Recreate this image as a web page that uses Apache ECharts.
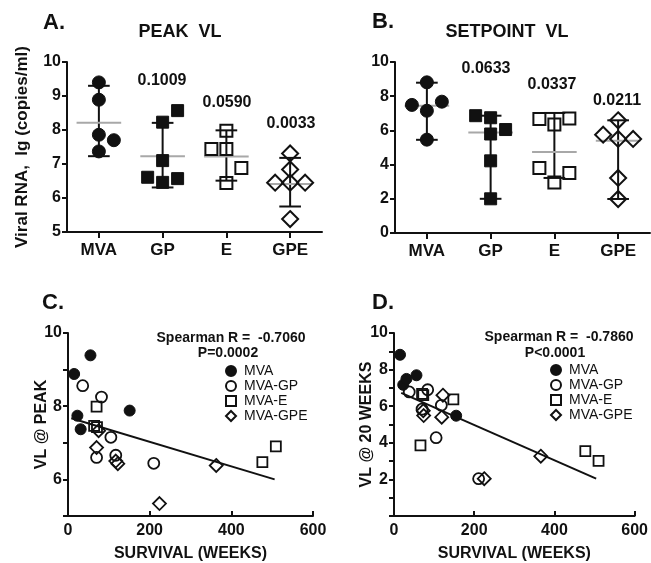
<!DOCTYPE html>
<html>
<head>
<meta charset="utf-8">
<script src="https://cdn.jsdelivr.net/npm/echarts@6/dist/echarts.min.js"></script>
<style>
  html, body { margin: 0; padding: 0; background: #fff; }
  #chart { width: 651px; height: 563px; }
</style>
</head>
<body>
<div id="chart"></div>
<script>
// ---- data ----
const groups = ['MVA', 'GP', 'E', 'GPE']

// A. peak VL, one array per group; side = -1 left / 0 centre / 1 right of the column
const peakVals = [
  [9.40, 8.89, 7.86, 7.70, 7.37],
  [8.57, 8.23, 7.10, 6.61, 6.57, 6.46],
  [7.98, 7.44, 7.44, 6.88, 6.44],
  [7.31, 6.84, 6.45, 6.45, 6.45, 5.38]
]
const peakSide = [
  [0, 0, 0, 1, 0],
  [1, 0, 0, -1, 1, 0],
  [0, -1, 0, 1, 0],
  [0, 0, -1, 0, 1, 0]
]
const peakMean = [8.21, 7.23, 7.22, 6.41]
const peakLow = [7.23, 6.31, 6.51, 5.75]
const peakHigh = [9.30, 8.21, 7.99, 7.18]
const peakP = ['', '0.1009', '0.0590', '0.0033']

// B. setpoint VL
const setVals = [
  [8.81, 7.49, 7.68, 7.15, 5.46],
  [6.86, 6.74, 6.05, 5.79, 4.22, 2.00],
  [6.67, 6.70, 6.34, 3.80, 3.51, 2.96],
  [6.59, 5.75, 5.50, 5.50, 3.22, 1.99]
]
const setSide = [
  [0, -1, 1, 0, 0],
  [-1, 0, 1, 0, 0, 0],
  [-1, 1, 0, -1, 1, 0],
  [0, -1, 0, 1, 0, 0]
]
const setMean = [7.44, 5.88, 4.74, 5.40]
const setLow = [5.45, 2.00, 3.22, 1.99]
const setHigh = [8.79, 6.86, 7.02, 6.59]
const setP = ['', '0.0633', '0.0337', '0.0211']

// C. survival (weeks) vs peak VL
const legendNames = ['MVA', 'MVA-GP', 'MVA-E', 'MVA-GPE']
const cSurv = [
  [15, 23, 31, 55, 151],
  [36, 82, 105, 70, 117, 210],
  [70, 64, 71, 476, 509],
  [75, 70, 117, 122, 224, 363]
]
const cPeak = [
  [8.88, 7.74, 7.37, 9.39, 7.88],
  [8.56, 8.25, 7.15, 6.60, 6.66, 6.44],
  [7.99, 7.46, 7.43, 6.47, 6.90],
  [7.33, 6.87, 6.50, 6.43, 5.34, 6.38]
]
const cFit = [[8, 7.67], [506, 6.00]]

// D. survival (weeks) vs VL at 20 weeks
const dSurv = [
  [15, 23, 31, 56, 155],
  [38, 84, 118, 70, 105, 211],
  [70, 73, 148, 66, 477, 510],
  [122, 74, 119, 73, 366, 225]
]
const dSet = [
  [8.81, 7.17, 7.49, 7.69, 5.48],
  [6.78, 6.90, 6.05, 5.84, 4.28, 2.04],
  [6.67, 6.60, 6.37, 3.86, 3.54, 3.01],
  [6.60, 5.49, 5.40, 5.75, 3.27, 2.04]
]
const dFit = [[18, 6.73], [504, 2.04]]

// ---- styling ----
const font = '"Liberation Sans", Arial, Helvetica, sans-serif'
const ink = '#111111'
const JIT = 0.235
const groupSymbol = ['circle', 'rect', 'rect', 'diamond']
const groupFilled = [true, true, false, false]
const scatSymbol = ['circle', 'circle', 'rect', 'diamond']
const scatFilled = [true, false, false, false]

function markStyle(filled, bw) {
  return filled
    ? { color: ink, borderColor: ink, borderWidth: 1, opacity: 1 }
    : { color: 'rgba(0,0,0,0)', borderColor: ink, borderWidth: bw || 2, opacity: 1 }
}

function symSize(sym, big) {
  if (sym === 'diamond') return big ? 16 : 13
  if (sym === 'rect') return big ? 12 : 10
  return big ? 13 : 11
}

function catXAxis(gridIndex) {
  return {
    gridIndex: gridIndex,
    type: 'value',
    min: -0.5,
    max: 3.5,
    axisLine: { show: true, onZero: false, lineStyle: { color: ink, width: 2 } },
    axisTick: { show: true, customValues: [0, 1, 2, 3], length: 6, lineStyle: { color: ink, width: 2 } },
    axisLabel: {
      customValues: [0, 1, 2, 3],
      formatter(v) { return groups[Math.round(v)] },
      color: ink, fontFamily: font, fontWeight: 'bold', fontSize: 17, margin: 10
    },
    splitLine: { show: false }
  }
}

function valAxis(gridIndex, min, max, interval, opts) {
  const o = opts || {}
  return {
    gridIndex: gridIndex,
    type: 'value',
    min: min,
    max: max,
    interval: interval,
    name: o.name || '',
    nameLocation: 'middle',
    nameGap: o.nameGap || 30,
    nameMoveOverlap: false,
    nameTextStyle: { color: ink, fontFamily: font, fontWeight: 'bold', fontSize: o.nameSize || 16 },
    axisLine: { show: true, onZero: false, lineStyle: { color: ink, width: 2 } },
    axisTick: { show: true, inside: !!o.inside, length: 5, lineStyle: { color: ink, width: 2 } },
    axisLabel: {
      formatter: o.formatter,
      color: ink, fontFamily: font, fontWeight: 'bold', fontSize: 16, margin: o.margin || 6
    },
    splitLine: { show: false }
  }
}

function errorBars(axisIdx, low, high, mean) {
  return {
    type: 'custom',
    xAxisIndex: axisIdx,
    yAxisIndex: axisIdx,
    silent: true,
    z: 1,
    encode: { x: 0, y: [1, 2, 3] },
    data: groups.map((g, i) => [i, low[i], high[i], mean[i]]),
    renderItem(params, api) {
      const x = api.value(0)
      const lo = api.coord([x, api.value(1)])
      const hi = api.coord([x, api.value(2)])
      const m = api.coord([x, api.value(3)])
      const w = api.size([1, 0])[0]
      const cap = w * 0.17
      const half = w * 0.35
      const black = { stroke: ink, lineWidth: 2 }
      return {
        type: 'group',
        children: [
          { type: 'line', shape: { x1: lo[0], y1: lo[1], x2: hi[0], y2: hi[1] }, style: black },
          { type: 'line', shape: { x1: lo[0] - cap, y1: lo[1], x2: lo[0] + cap, y2: lo[1] }, style: black },
          { type: 'line', shape: { x1: hi[0] - cap, y1: hi[1], x2: hi[0] + cap, y2: hi[1] }, style: black },
          { type: 'line', shape: { x1: m[0] - half, y1: m[1], x2: m[0] + half, y2: m[1] }, style: { stroke: '#a8a8a8', lineWidth: 2 } }
        ]
      }
    }
  }
}

function columnScatter(axisIdx, vals, sides, prefix) {
  return groups.map((g, i) => ({
    name: prefix + g,
    type: 'scatter',
    xAxisIndex: axisIdx,
    yAxisIndex: axisIdx,
    symbol: groupSymbol[i],
    symbolSize: symSize(groupSymbol[i], true),
    itemStyle: markStyle(groupFilled[i], 2),
    z: 3,
    data: vals[i].map((v, k) => [i + sides[i][k] * JIT, v])
  }))
}

function survScatter(axisIdx, xs, ys) {
  return legendNames.map((n, i) => ({
    name: n,
    type: 'scatter',
    xAxisIndex: axisIdx,
    yAxisIndex: axisIdx,
    symbol: scatSymbol[i],
    symbolSize: symSize(scatSymbol[i], false),
    itemStyle: markStyle(scatFilled[i], 1.8),
    z: 3,
    data: xs[i].map((x, k) => [x, ys[i][k]])
  }))
}

function fitLine(axisIdx, pts) {
  return {
    type: 'line',
    xAxisIndex: axisIdx,
    yAxisIndex: axisIdx,
    symbol: 'none',
    silent: true,
    z: 2,
    lineStyle: { color: ink, width: 2 },
    data: pts
  }
}

function txt(x, y, s, size, weight) {
  return {
    type: 'text',
    x: x,
    y: y,
    style: {
      text: s, fill: ink, fontFamily: font, fontSize: size,
      fontWeight: weight || 'bold', align: 'center', verticalAlign: 'middle'
    }
  }
}

function legendAt(left, top) {
  return {
    orient: 'vertical',
    left: left,
    top: top,
    padding: 0,
    itemGap: 1,
    itemWidth: 10,
    itemHeight: 10,
    selectedMode: false,
    data: legendNames,
    itemStyle: { opacity: 1 },
    textStyle: { color: ink, fontFamily: font, fontSize: 14, lineHeight: 12, padding: [0, 0, 0, 3] }
  }
}

const evenLabel = v => (v % 2 === 0 && v > 5) ? String(v) : ''
const evenLabelD = v => (v % 2 === 0 && v > 0) ? String(v) : ''

const chart = echarts.init(document.getElementById('chart'), null, { renderer: 'canvas' })

const series = [].concat(
  [errorBars(0, peakLow, peakHigh, peakMean)],
  columnScatter(0, peakVals, peakSide, 'A '),
  [errorBars(1, setLow, setHigh, setMean)],
  columnScatter(1, setVals, setSide, 'B '),
  [fitLine(2, cFit)],
  survScatter(2, cSurv, cPeak),
  [fitLine(3, dFit)],
  survScatter(3, dSurv, dSet)
)

chart.setOption({
  backgroundColor: '#ffffff',
  animation: false,
  grid: [
    { left: 67, top: 62, width: 255, height: 170 },
    { left: 395, top: 62, width: 255, height: 171 },
    { left: 68, top: 333, width: 245, height: 190 },
    { left: 394, top: 333, width: 244, height: 189 }
  ],
  xAxis: [
    catXAxis(0),
    catXAxis(1),
    valAxis(2, 0, 600, 200, { name: 'SURVIVAL (WEEKS)', nameGap: 30, inside: true, margin: 7 }),
    valAxis(3, 0, 600, 200, { name: 'SURVIVAL (WEEKS)', nameGap: 30, inside: true, margin: 7 })
  ],
  yAxis: [
    valAxis(0, 5, 10, 1, { name: 'Viral RNA,  lg (copies/ml)', nameGap: 36, nameSize: 17 }),
    valAxis(1, 0, 10, 2, {}),
    valAxis(2, 5, 10, 1, { name: 'VL @ PEAK', nameGap: 18, formatter: evenLabel }),
    valAxis(3, 0, 10, 1, { name: 'VL @ 20 WEEKS', nameGap: 19, formatter: evenLabelD })
  ],
  legend: [legendAt(225, 364), legendAt(550, 363)],
  graphic: [
    txt(54, 23, 'A.', 22),
    txt(383, 22, 'B.', 22),
    txt(53, 303, 'C.', 22),
    txt(383, 303, 'D.', 22),
    txt(180, 32, 'PEAK  VL', 18),
    txt(507, 32, 'SETPOINT  VL', 18),
    txt(162, 81, peakP[1], 16),
    txt(227, 103, peakP[2], 16),
    txt(291, 124, peakP[3], 16),
    txt(486, 69, setP[1], 16),
    txt(552, 85, setP[2], 16),
    txt(617, 101, setP[3], 16),
    txt(231, 338, 'Spearman R =  -0.7060', 14),
    txt(228, 353, 'P=0.0002', 14),
    txt(559, 337, 'Spearman R =  -0.7860', 14),
    txt(555, 353, 'P<0.0001', 14)
  ],
  series: series
})
</script>
</body>
</html>
